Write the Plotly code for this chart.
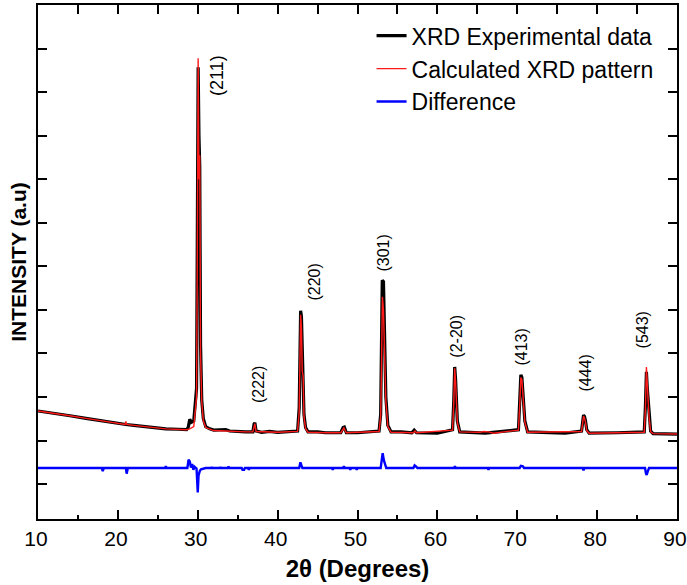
import plotly.graph_objects as go

# ---- XRD pattern data (2theta in degrees, intensity in arbitrary units) ----
exp_2theta = [
    10.0, 12.0, 14.0, 16.0, 18.0, 20.0, 21.0, 22.0, 24.0, 26.0, 27.5, 28.6,
    28.8, 29.0, 29.2, 29.5, 29.85, 29.95, 30.05, 30.15, 30.25, 30.35, 30.5, 30.7,
    31.0, 31.5, 32.0, 33.5, 34.0, 36.0, 36.9, 37.05, 37.15, 37.3, 38.0, 39.0,
    40.0, 42.5, 42.7, 42.8, 42.88, 42.98, 43.08, 43.2, 43.3, 43.5, 43.8, 45.0,
    46.0, 47.9, 48.2, 48.35, 48.6, 50.0, 52.7, 52.9, 53.02, 53.1, 53.25, 53.35,
    53.45, 53.55, 53.8, 54.2, 55.5, 56.8, 57.1, 57.4, 60.0, 61.9, 62.05, 62.17,
    62.28, 62.38, 62.5, 62.8, 64.0, 66.0, 70.15, 70.32, 70.45, 70.58, 70.72, 70.82,
    70.95, 71.3, 74.5, 76.0, 78.05, 78.2, 78.3, 78.42, 78.55, 78.7, 79.0, 82.5,
    85.9, 86.05, 86.17, 86.28, 86.38, 86.5, 86.7, 87.0, 90.0,
]
exp_intensity = [
    1.68, 1.63, 1.57, 1.51, 1.45, 1.40, 1.37, 1.35, 1.31, 1.27, 1.26, 1.25,
    1.30, 1.49, 1.42, 1.45, 2.20, 6.00, 9.57, 8.00, 7.30, 3.20, 1.93, 1.50,
    1.32, 1.27, 1.24, 1.25, 1.22, 1.20, 1.20, 1.38, 1.41, 1.22, 1.19, 1.21,
    1.19, 1.22, 1.75, 3.00, 3.98, 3.85, 2.90, 2.47, 1.60, 1.30, 1.20, 1.20,
    1.18, 1.18, 1.30, 1.31, 1.18, 1.18, 1.22, 1.60, 3.20, 4.68, 4.65, 3.80,
    3.13, 2.00, 1.35, 1.20, 1.20, 1.18, 1.24, 1.18, 1.17, 1.25, 1.90, 2.69,
    2.40, 2.00, 1.45, 1.20, 1.19, 1.17, 1.25, 1.90, 2.51, 2.45, 2.00, 1.89,
    1.45, 1.20, 1.19, 1.17, 1.22, 1.45, 1.59, 1.55, 1.45, 1.25, 1.17, 1.18,
    1.20, 1.80, 2.58, 2.20, 1.93, 1.60, 1.22, 1.16, 1.15,
]

calc_2theta = [
    10.0, 12.0, 14.0, 16.0, 18.0, 20.0, 20.9, 21.0, 21.1, 22.0, 24.0, 26.0,
    28.6, 29.0, 29.5, 29.85, 29.95, 30.05, 30.15, 30.25, 30.35, 30.5, 30.7, 31.0,
    32.0, 34.0, 36.0, 36.9, 37.05, 37.15, 37.3, 40.0, 42.5, 42.7, 42.8, 42.88,
    42.98, 43.08, 43.2, 43.3, 43.5, 43.8, 46.0, 47.9, 48.3, 48.6, 52.7, 52.9,
    53.02, 53.12, 53.25, 53.35, 53.45, 53.55, 53.8, 54.2, 57.0, 57.2, 57.4, 61.9,
    62.05, 62.17, 62.28, 62.38, 62.5, 62.8, 65.3, 65.8, 66.4, 67.0, 70.15, 70.32,
    70.45, 70.58, 70.72, 70.82, 70.95, 71.3, 78.05, 78.2, 78.3, 78.42, 78.55, 78.7,
    79.0, 85.9, 86.05, 86.17, 86.28, 86.38, 86.5, 86.7, 87.0, 90.0,
]
calc_intensity = [
    1.68, 1.63, 1.57, 1.51, 1.45, 1.40, 1.37, 1.44, 1.37, 1.35, 1.31, 1.27,
    1.25, 1.27, 1.32, 2.00, 5.50, 9.78, 7.00, 7.55, 3.00, 1.90, 1.45, 1.30,
    1.23, 1.21, 1.20, 1.20, 1.36, 1.39, 1.21, 1.19, 1.21, 1.65, 2.90, 3.89,
    3.60, 2.60, 2.47, 1.55, 1.28, 1.19, 1.18, 1.18, 1.29, 1.18, 1.21, 1.55,
    2.90, 4.30, 4.00, 3.30, 3.13, 1.90, 1.32, 1.19, 1.18, 1.22, 1.18, 1.24,
    1.85, 2.66, 2.35, 1.90, 1.42, 1.20, 1.19, 1.21, 1.20, 1.17, 1.24, 1.85,
    2.45, 2.40, 1.95, 1.85, 1.42, 1.19, 1.21, 1.42, 1.56, 1.52, 1.42, 1.23,
    1.17, 1.19, 1.75, 2.69, 2.10, 1.95, 1.55, 1.20, 1.16, 1.15,
]

diff_2theta = [
    10.0, 18.0, 18.1, 18.25, 21.0, 21.1, 21.25, 25.9, 26.0, 26.1, 28.7, 28.85,
    29.0, 29.15, 29.3, 29.45, 29.6, 29.85, 30.0, 30.1, 30.25, 30.4, 31.0, 31.7,
    31.75, 31.8, 32.8, 32.85, 32.9, 33.8, 33.85, 33.9, 35.5, 35.6, 35.8, 35.9,
    36.3, 36.4, 36.5, 42.7, 42.85, 43.0, 43.1, 46.8, 46.9, 47.0, 48.2, 48.3,
    48.4, 49.0, 49.1, 49.2, 49.8, 49.9, 50.0, 52.9, 53.05, 53.15, 53.3, 53.45,
    53.6, 57.0, 57.15, 57.35, 57.5, 62.1, 62.2, 62.3, 66.3, 66.4, 66.5, 70.3,
    70.45, 70.7, 70.85, 78.2, 78.3, 78.4, 86.0, 86.1, 86.2, 86.35, 86.5, 90.0,
]
diff_intensity = [
    0.37, 0.37, 0.30, 0.37, 0.37, 0.24, 0.37, 0.37, 0.41, 0.37, 0.37, 0.56,
    0.52, 0.38, 0.46, 0.33, 0.40, 0.36, -0.19, 0.20, 0.30, 0.34, 0.37, 0.37,
    0.40, 0.37, 0.37, 0.40, 0.37, 0.37, 0.41, 0.37, 0.37, 0.33, 0.33, 0.37,
    0.37, 0.33, 0.37, 0.37, 0.50, 0.42, 0.37, 0.37, 0.33, 0.37, 0.37, 0.41,
    0.37, 0.37, 0.33, 0.37, 0.37, 0.33, 0.37, 0.37, 0.62, 0.71, 0.55, 0.45,
    0.37, 0.37, 0.43, 0.40, 0.37, 0.37, 0.41, 0.37, 0.37, 0.33, 0.37, 0.37,
    0.42, 0.41, 0.37, 0.37, 0.32, 0.37, 0.37, 0.26, 0.21, 0.30, 0.37, 0.37,
]

# Miller-index labels: text, 2theta, intensity at label centre
hkl_labels = ["(211)", "(222)", "(220)", "(301)", "(2-20)", "(413)", "(444)", "(543)"]
hkl_2theta = [32.4, 37.7, 44.67, 53.22, 62.28, 70.54, 78.55, 85.68]
hkl_level = [9.39, 2.28, 4.65, 5.30, 3.40, 3.15, 2.55, 3.54]
hkl_size = [18, 16, 16, 16, 16, 16, 16, 16]

series_names = ["XRD Experimental data", "Calculated XRD pattern", "Difference"]

FONT = "Liberation Sans, Arial, sans-serif"

fig = go.Figure()
fig.add_trace(go.Scatter(x=exp_2theta, y=exp_intensity, mode="lines",
                         name=series_names[0],
                         line=dict(color="#000000", width=3.2)))
fig.add_trace(go.Scatter(x=calc_2theta, y=calc_intensity, mode="lines",
                         name=series_names[1],
                         line=dict(color="#ff1a1a", width=1.4)))
# difference curve sits on the top (5-degree tick) x-axis, which mirrors x
fig.add_trace(go.Scatter(x=diff_2theta, y=diff_intensity, mode="lines",
                         name=series_names[2], xaxis="x2",
                         line=dict(color="#0000ff", width=2.4)))

for txt, xv, yv, fs in zip(hkl_labels, hkl_2theta, hkl_level, hkl_size):
    fig.add_annotation(x=xv, y=yv, text=txt, textangle=-90, showarrow=False,
                       xanchor="center", yanchor="middle",
                       font=dict(family=FONT, size=fs, color="black"))

fig.update_layout(
    width=687, height=585,
    margin=dict(l=38, r=10, t=5, b=66),
    paper_bgcolor="white", plot_bgcolor="white",
    font=dict(family=FONT, color="black"),
    showlegend=True,
    legend=dict(x=0.522, y=0.982, xanchor="left", yanchor="top",
                bgcolor="rgba(0,0,0,0)", borderwidth=0,
                font=dict(family=FONT, size=23, color="black"),
                tracegroupgap=0, itemwidth=30),
    xaxis=dict(
        range=[10, 90], tick0=10, dtick=10, automargin=False,
        ticks="inside", ticklen=9, tickwidth=2, tickcolor="black",
        minor=dict(dtick=5, ticks="inside", ticklen=4, tickwidth=2, tickcolor="black"),
        showline=True, linewidth=2, linecolor="black", mirror=True,
        showgrid=False, zeroline=False, ticklabelshift=-2,
        tickfont=dict(family=FONT, size=21, color="black"),
        title=dict(text="<b>2θ (Degrees)</b>", standoff=11,
                   font=dict(family=FONT, size=24, color="black")),
    ),
    xaxis2=dict(
        overlaying="x", side="top", anchor="y", automargin=False,
        range=[10, 90], tick0=10, dtick=5,
        ticks="inside", ticklen=9, tickwidth=2, tickcolor="black",
        showticklabels=False, showline=False, showgrid=False, zeroline=False,
    ),
    yaxis=dict(
        range=[-0.8, 11.0], tick0=0, dtick=1, automargin=False,
        ticks="inside", ticklen=9, tickwidth=2, tickcolor="black",
        showticklabels=False,
        showline=True, linewidth=2, linecolor="black", mirror="ticks",
        showgrid=False, zeroline=False,
        title=dict(text="<b>INTENSITY (a.u)</b>", standoff=4,
                   font=dict(family=FONT, size=21, color="black")),
    ),
)

fig.write_html("out.html")
